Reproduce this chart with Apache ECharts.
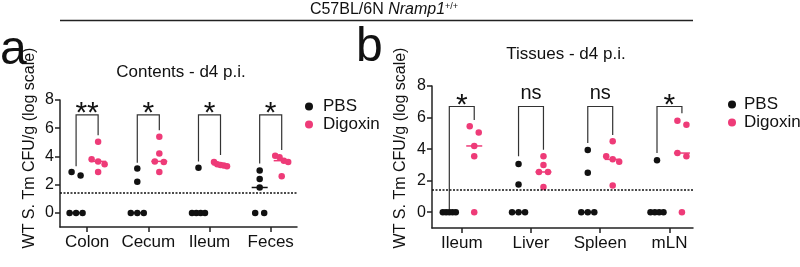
<!DOCTYPE html>
<html>
<head>
<meta charset="utf-8">
<script src="https://cdn.jsdelivr.net/npm/echarts@6/dist/echarts.min.js"></script>
<style>
html, body { margin: 0; padding: 0; background: #fff; }
#chart-container { width: 800px; height: 267px; }
</style>
</head>
<body>
<div id="chart-container"></div>
<script>
var contentsCats = ['Colon', 'Cecum', 'Ileum', 'Feces'];
var tissuesCats = ['Ileum', 'Liver', 'Spleen', 'mLN'];
var yTicks = [0, 2, 4, 6, 8];
var detectionLimit = 1.4;

// log10 CFU/g, one value per mouse
var contentsPBS = [
    [2.9, 2.65, 0, 0, 0],
    [3.15, 2.2, 0, 0, 0],
    [3.2, 0, 0, 0, 0],
    [3.0, 2.4, 1.8, 0, 0]
];
var contentsDig = [
    [5.05, 3.8, 3.65, 3.45, 2.9],
    [5.4, 4.2, 3.65, 3.6, 2.9],
    [3.6, 3.45, 3.4, 3.35, 3.3],
    [4.05, 3.95, 3.7, 3.6, 2.6]
];
var tissuesPBS = [
    [0, 0, 0, 0, 0],
    [3.05, 1.75, 0, 0, 0],
    [3.95, 2.5, 0, 0, 0],
    [3.3, 0, 0, 0, 0]
];
var tissuesDig = [
    [5.45, 5.05, 4.2, 3.55, 0],
    [3.55, 3.0, 2.55, 2.55, 1.6],
    [4.5, 3.55, 3.35, 3.2, 1.7],
    [5.8, 5.55, 3.75, 3.55, 0]
];

// significance brackets (top level, left leg end, right leg end)
var contentsSig = ['**', '*', '*', '*'];
var contentsBracketTop = [6.94, 6.94, 6.94, 6.94];
var contentsBracketLeft = [3.3, 3.55, 3.64, 3.5];
var contentsBracketRight = [5.5, 5.85, 4.1, 4.45];
var tissuesSig = ['*', 'ns', 'ns', '*'];
var tissuesBracketTop = [6.7, 6.7, 6.7, 6.7];
var tissuesBracketLeft = [0.17, 3.54, 4.38, 3.75];
var tissuesBracketRight = [5.85, 3.96, 4.9, 6.28];

var FONT = 'Liberation Sans, Arial, sans-serif';
var PINK = '#ee3b78';
var INK = '#222';
var groupOffset = 0.18;

var gridA = { left: 60, top: 100, width: 237, height: 127 };
var gridB = { left: 432, top: 86, width: 261, height: 142 };
var xRangeA = [-0.443, 3.43];
var xRangeB = [-0.43, 3.34];

// simple swarm: points closer than 7px vertically share a row
function swarm(groups, side, pxX, pxY) {
    var out = [];
    groups.forEach(function (vals, i) {
        var sorted = vals.slice().sort(function (a, b) { return b - a; });
        var rows = [], cur = [sorted[0]];
        for (var k = 1; k < sorted.length; k++) {
            if ((cur[cur.length - 1] - sorted[k]) * pxY < 7) cur.push(sorted[k]);
            else { rows.push(cur); cur = [sorted[k]]; }
        }
        rows.push(cur);
        rows.forEach(function (row) {
            var n = row.length;
            var step = n > 1 ? Math.min(9, 13 / (n - 1)) : 0;
            row.forEach(function (v, j) {
                out.push([i + side + (j - (n - 1) / 2) * step / pxX, v]);
            });
        });
    });
    return out;
}

function median(vals) {
    var s = vals.slice().sort(function (a, b) { return a - b; });
    var m = Math.floor(s.length / 2);
    return s.length % 2 ? s[m] : (s[m - 1] + s[m]) / 2;
}

function medianSeries(idx, groups, side, color) {
    return {
        type: 'custom', xAxisIndex: idx, yAxisIndex: idx, silent: true, z: 1,
        data: groups.map(function (g, i) { return [i + side, median(g)]; }),
        renderItem: function (params, api) {
            var p = api.coord([api.value(0), api.value(1)]);
            return {
                type: 'line',
                shape: { x1: p[0] - 8, y1: p[1], x2: p[0] + 8, y2: p[1] },
                style: { stroke: color, lineWidth: 1.5 }
            };
        }
    };
}

function bracketSeries(idx, tops, lefts, rights, labels) {
    return {
        type: 'custom', xAxisIndex: idx, yAxisIndex: idx, silent: true,
        data: tops.map(function (t, i) { return [i, t, lefts[i], rights[i]]; }),
        renderItem: function (params, api) {
            var i = api.value(0), t = api.value(1);
            var a = api.coord([i - groupOffset, api.value(2)]);
            var b = api.coord([i - groupOffset, t]);
            var c = api.coord([i + groupOffset, t]);
            var d = api.coord([i + groupOffset, api.value(3)]);
            var lab = labels[params.dataIndex];
            var isNs = lab === 'ns';
            return {
                type: 'group',
                children: [
                    {
                        type: 'polyline',
                        shape: { points: [a, b, c, d] },
                        style: { stroke: '#333', lineWidth: 1.2, fill: null }
                    },
                    {
                        type: 'text',
                        style: {
                            text: lab,
                            x: (b[0] + c[0]) / 2,
                            y: isNs ? b[1] - 13 : b[1] - 1,
                            textAlign: 'center',
                            textVerticalAlign: 'middle',
                            fontSize: isNs ? 20 : 30,
                            fontFamily: FONT,
                            fill: '#111'
                        }
                    }
                ]
            };
        }
    };
}

function xAxisFor(idx, cats, range) {
    return {
        type: 'value', gridIndex: idx, min: range[0], max: range[1],
        splitLine: { show: false },
        axisLine: { onZero: false, lineStyle: { color: INK, width: 1.5 } },
        axisTick: { customValues: [0, 1, 2, 3], length: 5, lineStyle: { color: INK, width: 1.5 } },
        axisLabel: {
            customValues: [0, 1, 2, 3], margin: 7,
            formatter: function (v) { return cats[Math.round(v)]; },
            fontSize: 17, color: '#111', fontFamily: FONT
        }
    };
}

function yAxisFor(idx) {
    return {
        type: 'value', gridIndex: idx, min: -1, max: 8,
        splitLine: { show: false },
        axisLine: { show: true, onZero: false, lineStyle: { color: INK, width: 1.5 } },
        axisTick: { customValues: yTicks, length: 5, lineStyle: { color: INK, width: 1.5 } },
        axisLabel: { customValues: yTicks, margin: 6, fontSize: 16, color: '#111', fontFamily: FONT }
    };
}

var pxA = [gridA.width / (xRangeA[1] - xRangeA[0]), gridA.height / 9];
var pxB = [gridB.width / (xRangeB[1] - xRangeB[0]), gridB.height / 9];

function dots(name, idx, data, color) {
    return {
        name: name, type: 'scatter', xAxisIndex: idx, yAxisIndex: idx, z: 3,
        symbol: 'circle', symbolSize: 6.5,
        itemStyle: { color: color, opacity: 1 },
        data: data
    };
}

function limitLine() {
    return {
        silent: true, symbol: ['none', 'none'], label: { show: false },
        lineStyle: { color: '#111', type: [2, 1.5], width: 1.5 },
        data: [{ yAxis: detectionLimit }]
    };
}

var chart = echarts.init(document.getElementById('chart-container'));

var pbsA = dots('PBS', 0, swarm(contentsPBS, -groupOffset, pxA[0], pxA[1]), '#111');
pbsA.markLine = limitLine();
var pbsB = dots('PBS', 1, swarm(tissuesPBS, -groupOffset, pxB[0], pxB[1]), '#111');
pbsB.markLine = limitLine();

var yTitle = 'WT S. Tm CFU/g (log scale)';

chart.setOption({
    animation: false,
    grid: [gridA, gridB],
    xAxis: [xAxisFor(0, contentsCats, xRangeA), xAxisFor(1, tissuesCats, xRangeB)],
    yAxis: [yAxisFor(0), yAxisFor(1)],
    legend: [
        {
            left: 300, top: 93, orient: 'vertical', itemGap: 1,
            icon: 'circle', itemWidth: 8, itemHeight: 8,
            textStyle: { fontSize: 17, color: '#111', fontFamily: FONT, padding: [0, 0, 0, 5] },
            data: ['PBS', 'Digoxin']
        },
        {
            left: 723, top: 91, orient: 'vertical', itemGap: 1,
            icon: 'circle', itemWidth: 8, itemHeight: 8,
            textStyle: { fontSize: 17, color: '#111', fontFamily: FONT, padding: [0, 0, 0, 3] },
            data: ['PBS', 'Digoxin']
        }
    ],
    graphic: [
        {
            type: 'line', shape: { x1: 60, y1: 20.5, x2: 693, y2: 20.5 },
            style: { stroke: INK, lineWidth: 1.5 }
        },
        {
            type: 'text', x: 384, y: 10,
            style: {
                text: '{n|C57BL/6N }{i|Nramp1}{s|+/+}',
                textAlign: 'center', textVerticalAlign: 'middle',
                rich: {
                    n: { fontSize: 16, fontFamily: FONT, fill: '#111' },
                    i: { fontSize: 16, fontFamily: FONT, fontStyle: 'italic', fill: '#111' },
                    s: { fontSize: 9, fontFamily: FONT, fill: '#111', verticalAlign: 'top' }
                }
            }
        },
        {
            type: 'text', x: 0, y: 51,
            style: { text: 'a', fontSize: 48, fontFamily: FONT, fill: '#111', textVerticalAlign: 'middle' }
        },
        {
            type: 'text', x: 356, y: 48,
            style: { text: 'b', fontSize: 48, fontFamily: FONT, fill: '#111', textVerticalAlign: 'middle' }
        },
        {
            type: 'text', x: 181, y: 72,
            style: { text: 'Contents - d4 p.i.', fontSize: 17, fontFamily: FONT, fill: '#111', textAlign: 'center', textVerticalAlign: 'middle' }
        },
        {
            type: 'text', x: 566, y: 54,
            style: { text: 'Tissues - d4 p.i.', fontSize: 17, fontFamily: FONT, fill: '#111', textAlign: 'center', textVerticalAlign: 'middle' }
        },
        {
            type: 'text', x: 30, y: 148, rotation: Math.PI / 2,
            style: { text: yTitle, fontSize: 16, fontFamily: FONT, fill: '#111', textAlign: 'center', textVerticalAlign: 'middle' }
        },
        {
            type: 'text', x: 401, y: 148, rotation: Math.PI / 2,
            style: { text: yTitle, fontSize: 16, fontFamily: FONT, fill: '#111', textAlign: 'center', textVerticalAlign: 'middle' }
        }
    ],
    series: [
        pbsA,
        dots('Digoxin', 0, swarm(contentsDig, groupOffset, pxA[0], pxA[1]), PINK),
        medianSeries(0, contentsPBS, -groupOffset, '#111'),
        medianSeries(0, contentsDig, groupOffset, PINK),
        bracketSeries(0, contentsBracketTop, contentsBracketLeft, contentsBracketRight, contentsSig),
        pbsB,
        dots('Digoxin', 1, swarm(tissuesDig, groupOffset, pxB[0], pxB[1]), PINK),
        medianSeries(1, tissuesPBS, -groupOffset, '#111'),
        medianSeries(1, tissuesDig, groupOffset, PINK),
        bracketSeries(1, tissuesBracketTop, tissuesBracketLeft, tissuesBracketRight, tissuesSig)
    ]
});
window.addEventListener('resize', chart.resize);
</script>
</body>
</html>
